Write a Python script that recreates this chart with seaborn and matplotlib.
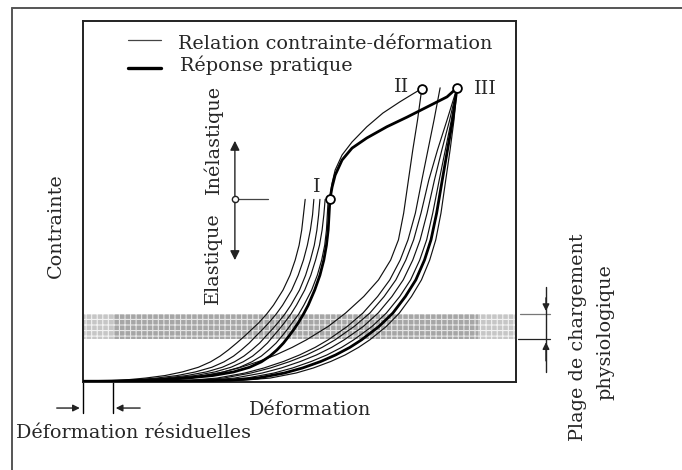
import matplotlib
matplotlib.use("Agg")
import matplotlib.pyplot as plt
import seaborn as sns
import pandas as pd

sns.set_style("white")
plt.rcParams["font.family"] = ["DejaVu Serif"]
plt.rcParams["hatch.linewidth"] = 0.8

# ---- data (strain / stress in % of the plotted range) ----
# loading branches (elastic range up to point I)
load_sigma = [0.0, 0.2, 0.5, 1.0, 1.7, 2.7, 4.0, 5.5, 7.1, 8.8, 10.7, 12.7,
              14.5, 16.3, 18.7, 21.2, 25.4, 29.5, 33.7, 37.8, 42.0, 46.2, 50.5]
load_L1 = [0.0, 5.0, 10.0, 14.5, 19.0, 23.0, 26.7, 29.5, 31.7, 33.6, 35.5, 37.4,
           39.0, 40.6, 42.4, 44.0, 46.2, 47.8, 49.0, 49.9, 50.5, 50.9, 51.3]
load_L2 = [0.5, 6.0, 12.0, 17.0, 21.8, 26.0, 29.8, 32.6, 34.8, 36.6, 38.4, 40.0,
           41.5, 42.9, 44.6, 46.1, 48.2, 49.7, 50.9, 51.8, 52.5, 53.0, 53.3]
load_L3 = [1.0, 7.0, 13.5, 19.0, 24.0, 28.5, 32.2, 35.0, 37.2, 39.0, 40.8, 42.3,
           43.7, 45.0, 46.6, 48.0, 50.0, 51.4, 52.5, 53.4, 54.0, 54.4, 54.7]
load_L4 = [1.5, 7.5, 14.5, 20.5, 26.0, 30.5, 34.2, 37.0, 39.2, 40.9, 42.6, 44.0,
           45.3, 46.5, 48.0, 49.3, 51.2, 52.6, 53.7, 54.6, 55.2, 55.6, 55.9]
load_L5 = [2.0, 8.0, 15.5, 22.0, 27.8, 32.5, 36.2, 39.0, 41.2, 42.9, 44.6, 46.0,
           47.2, 48.3, 49.8, 51.0, 52.8, 54.1, 55.1, 55.8, 56.2, 56.4, 56.6]
load_L6 = [0.0, 9.0, 17.0, 24.0, 30.0, 34.8, 38.5, 41.2, 43.2, 44.8, 46.3, 47.6,
           48.7, 49.7, 50.9, 52.0, 53.5, 54.7, 55.6, 56.2, 56.6, 56.8, 57.0]

# inelastic branches beyond point I
to_II_eps = [57.0, 57.5, 58.2, 59.8, 62.1, 65.5, 69.2, 73.1, 76.1, 78.2]
to_II_sig = [50.9, 55.0, 58.6, 62.8, 66.4, 70.6, 74.4, 77.5, 79.7, 81.2]
to_III_eps = [57.0, 57.5, 58.2, 59.8, 62.1, 65.5, 70.1, 74.8, 79.4, 84.0, 86.3]
to_III_sig = [50.5, 53.9, 57.2, 61.4, 64.7, 67.5, 70.6, 73.3, 76.1, 78.9, 81.4]

# unloading branches from II / III
unload_sigma = [81.4, 72.5, 64.2, 55.9, 46.7, 39.3, 33.7, 28.2, 23.6, 19.0,
                15.3, 11.6, 9.5, 7.4, 5.6, 3.8, 2.4, 1.0, 0.4, 0.0]
unload_R1 = [78.2, 77.2, 76.1, 75.1, 74.0, 72.8, 71.0, 68.2, 64.8, 60.6,
             56.6, 51.6, 48.3, 44.5, 40.6, 36.0, 31.5, 25.0, 19.0, 10.0]
unload_R2 = [82.4, 81.0, 79.6, 78.2, 76.7, 75.0, 73.2, 70.8, 68.0, 64.6,
             61.0, 56.6, 53.6, 50.0, 46.3, 41.8, 37.4, 31.0, 25.0, 12.0]
unload_R3 = [86.3, 84.0, 81.8, 79.8, 78.0, 76.3, 74.5, 72.2, 69.5, 66.2,
             62.6, 58.2, 55.2, 51.6, 47.8, 43.3, 38.8, 32.5, 26.5, 13.0]
unload_R4 = [86.3, 84.6, 82.8, 81.1, 79.4, 77.8, 76.1, 73.9, 71.3, 68.1,
             64.7, 60.3, 57.4, 53.9, 50.2, 45.8, 41.4, 35.0, 29.0, 14.0]
unload_R5 = [86.3, 85.0, 83.6, 82.2, 80.7, 79.3, 77.7, 75.6, 73.1, 70.0,
             66.7, 62.5, 59.7, 56.3, 52.7, 48.4, 44.1, 37.8, 31.5, 15.0]
unload_R6 = [86.3, 85.3, 84.1, 82.9, 81.6, 80.3, 78.8, 76.8, 74.4, 71.5,
             68.3, 64.3, 61.6, 58.3, 54.9, 50.7, 46.5, 40.3, 34.0, 16.0]
unload_R7 = [86.3, 85.6, 84.7, 83.7, 82.6, 81.4, 80.0, 78.1, 75.8, 73.0,
             70.0, 66.2, 63.6, 60.5, 57.2, 53.2, 49.2, 43.2, 37.0, 17.0]

point_names = ["I", "II", "III"]
point_eps = [57.0, 78.2, 86.3]
point_sig = [50.5, 81.2, 81.4]

band_low, band_high = 11.7, 18.8        # physiological loading range
residual_strain = 7.0                    # residual deformation after unloading
elastic_limit = 50.5

legend_labels = ["Relation contrainte-déformation", "Réponse pratique"]

# ---- assemble long-form tables ----
rows_thin, rows_thick = [], []
thin_load = {"L1": load_L1, "L2": load_L2, "L3": load_L3, "L4": load_L4, "L5": load_L5}
for name, eps in thin_load.items():
    for e, s in zip(eps, load_sigma):
        rows_thin.append((name, e, s))
for e, s in zip(to_II_eps, to_II_sig):
    rows_thin.append(("I-II", e, s))
thin_unload = {"R1": unload_R1, "R2": unload_R2, "R3": unload_R3, "R4": unload_R4,
               "R5": unload_R5, "R7": unload_R7}
for name, eps in thin_unload.items():
    for e, s in zip(eps, unload_sigma):
        rows_thin.append((name, e, s))
# practical response: loading to I, on to III, then unloading
for e, s in zip(load_L6, load_sigma):
    rows_thick.append(("load", e, s))
for e, s in zip(to_III_eps[1:], to_III_sig[1:]):
    rows_thick.append(("load", e, s))
for e, s in zip(unload_R6, unload_sigma):
    rows_thick.append(("unload", e, s))

thin = pd.DataFrame(rows_thin, columns=["curve", "eps", "sig"])
thick = pd.DataFrame(rows_thick, columns=["curve", "eps", "sig"])

# ---- figure ----
fig = plt.figure(figsize=(6.82, 4.70), dpi=100)
ax = fig.add_axes([0.1211, 0.1879, 0.6362, 0.7681])
ax.set_xlim(0, 100)
ax.set_ylim(0, 100)
ax.set_xticks([])
ax.set_yticks([])
for sp in ax.spines.values():
    sp.set_color("#222222")
    sp.set_linewidth(1.4)

# outer frame (left and top edges)
fig.add_artist(plt.Line2D([12 / 682, 12 / 682], [0, 1 - 8 / 470], color="#555555", lw=1.4))
fig.add_artist(plt.Line2D([12 / 682, 1], [1 - 8 / 470, 1 - 8 / 470], color="#555555", lw=1.4))

# physiological loading band (dotted screen)
ax.fill_between([0, 100], band_low, band_high, facecolor="#c6c6c6",
                edgecolor="#f2f2f2", hatch="+++", lw=0, zorder=0.5)
ax.fill_between([residual_strain, 91.1], band_low, band_high, facecolor="#a6a6a6",
                edgecolor="#e6e6e6", hatch="+++", lw=0, zorder=0.6)

sns.lineplot(data=thin, x="eps", y="sig", units="curve", estimator=None, sort=False,
             color="#111111", lw=0.85, ax=ax, zorder=2)
sns.lineplot(data=thick, x="eps", y="sig", units="curve", estimator=None, sort=False,
             color="black", lw=2.0, ax=ax, zorder=3)
ax.plot([0, 30], [0.3, 0.3], color="black", lw=2.4, solid_capstyle="butt", zorder=3)

sns.scatterplot(x=point_eps, y=point_sig, s=40, facecolor="white", edgecolor="black",
                linewidth=1.3, ax=ax, zorder=5, legend=False)
fs = 13.8
ax.text(point_eps[0] - 3.0, point_sig[0] + 3.4, point_names[0], ha="center", va="center", fontsize=fs)
ax.text(point_eps[1] - 4.6, point_sig[1] + 0.4, point_names[1], ha="center", va="center", fontsize=fs)
ax.text(point_eps[2] + 6.6, point_sig[2] - 0.2, point_names[2], ha="center", va="center", fontsize=fs)

# legend drawn as sample strokes
ax.plot([10.5, 18.1], [94.6, 94.6], color="#444444", lw=0.9)
ax.plot([10.5, 18.1], [86.9, 86.9], color="black", lw=2.4)
ax.text(22.0, 92.2, legend_labels[0], ha="left", va="baseline", fontsize=fs)
ax.text(22.4, 86.0, legend_labels[1], ha="left", va="baseline", fontsize=fs)

# elastic / inelastic marker
arrow_x = 35.1
ax.annotate("", xy=(arrow_x, 67.5), xytext=(arrow_x, elastic_limit),
            arrowprops=dict(arrowstyle="-|>", color="#222222", lw=1.0, mutation_scale=14))
ax.annotate("", xy=(arrow_x, 32.9), xytext=(arrow_x, elastic_limit),
            arrowprops=dict(arrowstyle="-|>", color="#222222", lw=1.0, mutation_scale=14))
ax.plot([arrow_x, 42.7], [elastic_limit, elastic_limit], color="#444444", lw=0.9)
ax.plot([arrow_x], [elastic_limit], marker="o", ms=4.5, mfc="white", mec="#222222", mew=1.0)
ax.text(30.0, 67.0, "Inélastique", rotation=90, ha="center", va="center", fontsize=fs)
ax.text(30.0, 34.3, "Elastique", rotation=90, ha="center", va="center", fontsize=fs)

# axis titles
ax.text(-6.1, 43.1, "Contrainte", rotation=90, ha="center", va="center", fontsize=fs,
        clip_on=False)
ax.text(52.4, -7.8, "Déformation", ha="center", va="center", fontsize=fs, clip_on=False)

# residual deformation marker
for xv in [0.0, residual_strain]:
    ax.plot([xv, xv], [0, -8.7], color="black", lw=1.0, clip_on=False)
ax.annotate("", xy=(0.0, -7.3), xytext=(-6.6, -7.3), annotation_clip=False,
            arrowprops=dict(arrowstyle="-|>", color="#222222", lw=1.0, mutation_scale=10))
ax.annotate("", xy=(residual_strain, -7.3), xytext=(13.9, -7.3), annotation_clip=False,
            arrowprops=dict(arrowstyle="-|>", color="#222222", lw=1.0, mutation_scale=10))
ax.text(-15.3, -14.2, "Déformation résiduelles", ha="left", va="center", fontsize=fs,
        clip_on=False)

# physiological range marker on the right
ax.plot([100.8, 107.7], [band_high, band_high], color="#777777", lw=0.9, clip_on=False)
ax.plot([100.3, 107.7], [band_low, band_low], color="#222222", lw=0.9, clip_on=False)
ax.plot([106.8, 106.8], [26.2, 2.7], color="#222222", lw=1.0, clip_on=False)
ax.annotate("", xy=(106.8, band_high), xytext=(106.8, 24.0), annotation_clip=False,
            arrowprops=dict(arrowstyle="-|>", color="#222222", lw=1.0, mutation_scale=10))
ax.annotate("", xy=(106.8, band_low), xytext=(106.8, 5.0), annotation_clip=False,
            arrowprops=dict(arrowstyle="-|>", color="#222222", lw=1.0, mutation_scale=10))
ax.text(114.2, 12.4, "Plage de chargement", rotation=90, ha="center", va="center",
        fontsize=fs, clip_on=False)
ax.text(120.6, 13.8, "physiologique", rotation=90, ha="center", va="center",
        fontsize=fs, clip_on=False)

ax.set_xlabel("")
ax.set_ylabel("")
fig.savefig("out.png", dpi=100)
